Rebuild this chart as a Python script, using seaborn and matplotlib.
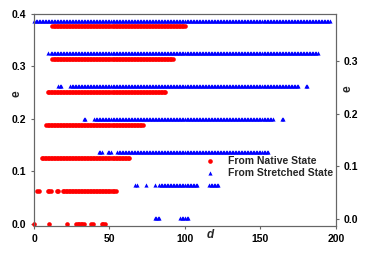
import numpy as np
import pandas as pd
import seaborn as sns
import matplotlib.pyplot as plt

# e levels and runs of d (first, last), d step = 1
native_e = [0.0, 0.063, 0.126, 0.188, 0.251, 0.314, 0.377]
native_runs = [
    [(0, 0), (10, 10), (22, 22), (28, 33), (38, 39), (45, 47)],
    [(2, 3), (9, 11), (15, 16), (19, 54)],
    [(5, 63)],
    [(8, 72)],
    [(9, 87)],
    [(12, 92)],
    [(12, 100)],
]
stretched_e = [0.011, 0.074, 0.137, 0.200, 0.262, 0.325, 0.387]
stretched_runs = [
    [(80, 83), (97, 102)],
    [(67, 68), (74, 74), (80, 80), (83, 108), (116, 122)],
    [(43, 45), (49, 51), (55, 155)],
    [(33, 34), (40, 158), (164, 165)],
    [(16, 18), (24, 175), (180, 181)],
    [(9, 9), (11, 188)],
    [(0, 196)],
]


def expand(levels, runs):
    d, e = [], []
    for lev, rr in zip(levels, runs):
        for a, b in rr:
            pts = np.arange(a, b + 1)
            d.extend(pts)
            e.extend([lev] * len(pts))
    return pd.DataFrame({"d": d, "e": e})


native = expand(native_e, native_runs)
stretched = expand(stretched_e, stretched_runs)

sns.set_style("ticks")
plt.rcParams["font.family"] = ["Liberation Sans", "DejaVu Sans"]
plt.rcParams["font.weight"] = "bold"
plt.rcParams["axes.edgecolor"] = "#666666"
plt.rcParams["xtick.color"] = "#666666"
plt.rcParams["ytick.color"] = "#666666"

fig = plt.figure(figsize=(3.68, 2.54), dpi=100)
ax = fig.add_axes([0.0924, 0.110, 0.8206, 0.835])

sns.scatterplot(data=native, x="d", y="e", color="red", marker="o", s=11,
                linewidth=0, label="From Native State", ax=ax, clip_on=False)
sns.scatterplot(data=stretched, x="d", y="e", color="blue", marker="^", s=9,
                linewidth=0, label="From Stretched State", ax=ax, clip_on=False)

ax.set_xlim(0, 200)
ax.set_ylim(-0.004, 0.4)
ax.set_xticks([0, 50, 100, 150, 200])
ax.set_yticks([0.0, 0.1, 0.2, 0.3, 0.4])
ax.set_yticklabels(["0.0", "0.1", "0.2", "0.3", "0.4"])
ax.tick_params(labelsize=7.5, length=2.5, width=0.8, labelcolor="black", pad=3)
ax.set_xlabel("d", fontsize=8.5, fontstyle="italic", fontweight="bold")
ax.xaxis.set_label_coords(0.585, -0.012)
ax.set_ylabel("e", fontsize=8.5, fontweight="bold")
ax.yaxis.set_label_coords(-0.037, 0.623)

ax2 = ax.twinx()
ax2.set_ylim(-0.0135, 0.3905)
ax2.set_yticks([0.0, 0.1, 0.2, 0.3])
ax2.set_yticklabels(["0.0", "0.1", "0.2", "0.3"])
ax2.tick_params(labelsize=7.5, length=2.5, width=0.8, labelcolor="black", pad=3)
ax2.set_ylabel("e", fontsize=8.5, fontweight="bold")
ax2.yaxis.set_label_coords(1.019, 0.65)

for a in (ax, ax2):
    for lab in a.get_xticklabels() + a.get_yticklabels():
        lab.set_fontweight("bold")
    for sp in a.spines.values():
        sp.set_visible(True)
        sp.set_linewidth(0.8)
        sp.set_color("#666666")

leg = ax.legend(loc="upper left", bbox_to_anchor=(0.565, 0.33), frameon=False,
                fontsize=7.5, handlelength=1.0, handletextpad=1.2,
                labelspacing=0.2, borderpad=0, borderaxespad=0)
for t in leg.get_texts():
    t.set_fontweight("bold")

fig.savefig("out.png", dpi=100)
